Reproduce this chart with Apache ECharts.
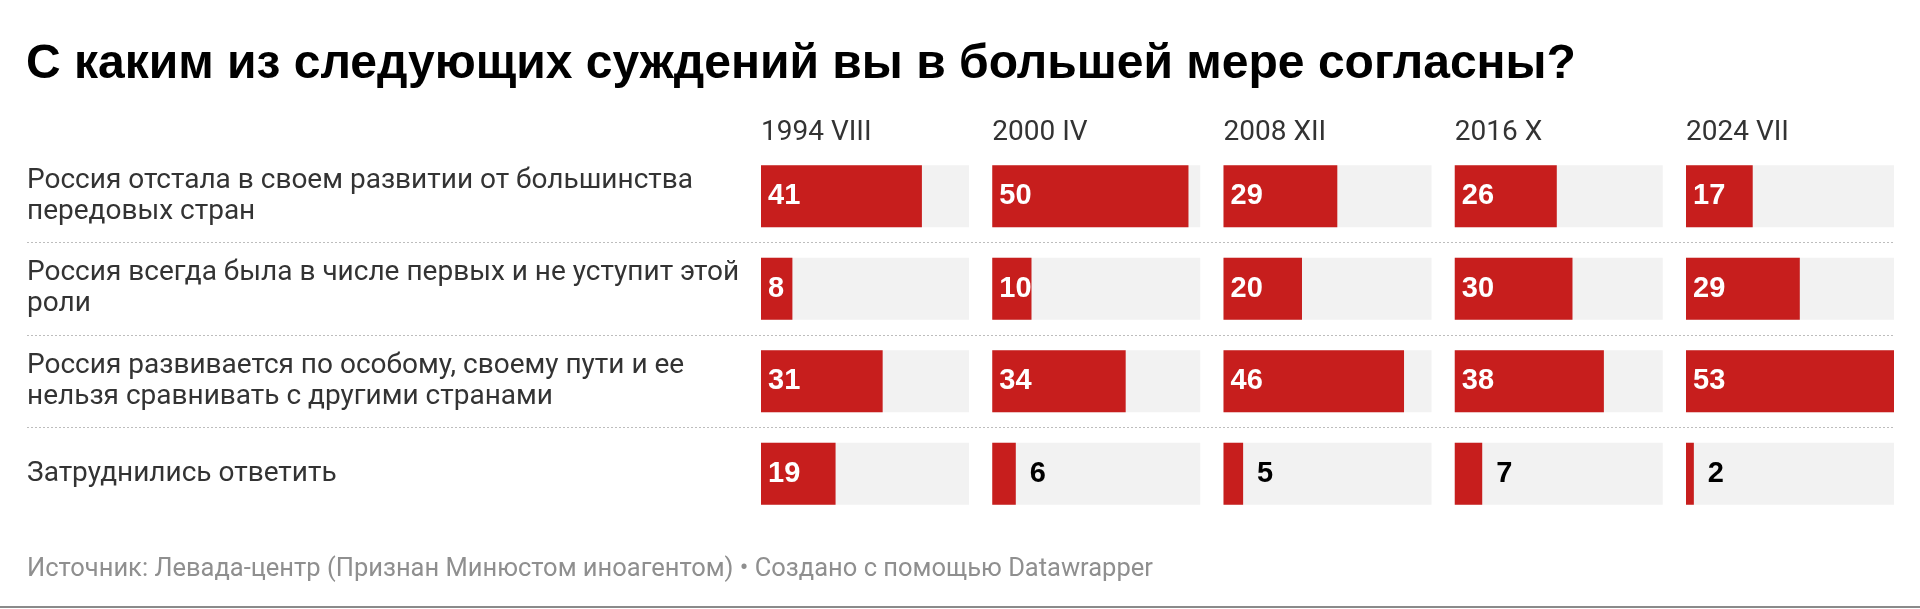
<!DOCTYPE html>
<html>
<head>
<meta charset="utf-8">
<style>
  html, body { margin: 0; padding: 0; background: #fff; }
  #chart { width: 1920px; height: 609px; }
</style>
<script src="https://cdn.jsdelivr.net/npm/echarts@6/dist/echarts.min.js"></script>
</head>
<body>
<div id="chart"></div>
<script>
const titleText = 'С каким из следующих суждений вы в большей мере согласны?';
const sourceText = 'Источник: Левада-центр (Признан Минюстом иноагентом) • Создано с помощью Datawrapper';
const answers = [
  'Россия отстала в своем развитии от большинства\nпередовых стран',
  'Россия всегда была в числе первых и не уступит этой\nроли',
  'Россия развивается по особому, своему пути и ее\nнельзя сравнивать с другими странами',
  'Затруднились ответить'
];
const periods = ['1994 VIII', '2000 IV', '2008 XII', '2016 X', '2024 VII'];
const v1994 = [41, 8, 31, 19];
const v2000 = [50, 10, 34, 6];
const v2008 = [29, 20, 46, 5];
const v2016 = [26, 30, 38, 7];
const v2024 = [17, 29, 53, 2];
const values = [v1994, v2000, v2008, v2016, v2024];
const xMax = 53;

const RED = '#c71e1d';
const BG = '#f2f2f2';
const TEXT = '#333';
// layout
const panelLeft = 761, panelStep = 231.25, panelWidth = 208;
const gridTop = 150, rowH = 92.5;
const gridH = rowH * answers.length;

const chart = echarts.init(document.getElementById('chart'), null, { renderer: 'canvas' });

const grids = [], xAxes = [], yAxes = [], series = [];

periods.forEach((p, i) => {
  grids.push({ left: panelLeft + panelStep * i, top: gridTop, width: panelWidth, height: gridH });
  xAxes.push({
    gridIndex: i, type: 'value', min: 0, max: xMax, position: 'top',
    axisLine: { show: false }, axisTick: { show: false }, axisLabel: { show: false }, splitLine: { show: false },
    name: p, nameLocation: 'start', nameGap: 0,
    nameTextStyle: { align: 'left', verticalAlign: 'bottom', fontFamily: 'Roboto', fontSize: 28, color: TEXT, padding: [0, 0, 3, 0] }
  });
  yAxes.push({
    gridIndex: i, type: 'category', inverse: true, data: answers, show: false
  });
  series.push({
    type: 'bar', xAxisIndex: i, yAxisIndex: i, barWidth: 62,
    showBackground: true, backgroundStyle: { color: BG },
    itemStyle: { color: RED },
    label: { show: true, position: 'insideLeft', distance: 7, color: '#fff', fontWeight: 'bold', fontSize: 29, fontFamily: 'Liberation Sans' },
    data: values[i].map(v => v < 8 ? { value: v, label: { position: 'right', distance: 14, color: '#000' } } : v),
    silent: true
  });
});

// full-width grid for row labels and dotted separators
grids.push({ left: 27, right: 26, top: gridTop, height: gridH });
xAxes.push({ gridIndex: 5, type: 'value', show: false });
yAxes.push({
  gridIndex: 5, type: 'category', inverse: true, data: answers,
  axisLine: { show: false }, axisTick: { show: false },
  splitLine: { show: true, showMinLine: false, showMaxLine: false, lineStyle: { type: [2, 2], color: '#bdbdbd', width: 1 } },
  axisLabel: { align: 'left', margin: 0, fontFamily: 'Roboto', fontSize: 28, lineHeight: 31, color: TEXT, padding: [3, 0, 0, 0] }
});

chart.setOption({
  animation: false,
  grid: grids,
  xAxis: xAxes,
  yAxis: yAxes,
  series: series,
  graphic: [
    { type: 'text', left: 26, top: 41, style: { text: titleText, font: 'bold 48px "Liberation Sans"', fill: '#000' } },
    { type: 'text', left: 27, top: 557, style: { text: sourceText, font: '25.5px Roboto', fill: '#8f8f8f' } },
    { type: 'rect', left: 0, top: 606, shape: { width: 1920, height: 2 }, style: { fill: '#8a8a8a' } }
  ]
});
</script>
</body>
</html>
